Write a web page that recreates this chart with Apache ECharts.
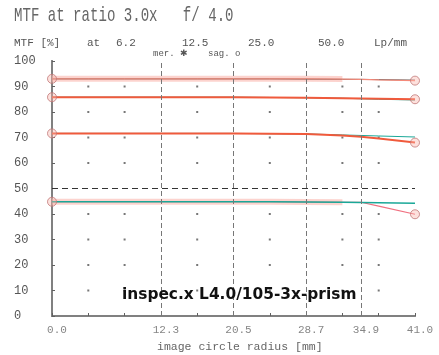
<!DOCTYPE html>
<html><head><meta charset="utf-8">
<script src="https://cdn.jsdelivr.net/npm/echarts@6/dist/echarts.min.js"></script>
<style>html,body{margin:0;padding:0;background:#fff}#c{width:439px;height:355px}</style>
</head><body><div id="c"></div>
<script>
// image circle radius (mm)
const radius = [0, 4.1, 8.2, 12.3, 16.4, 20.5, 24.6, 28.7, 32.8, 34.9, 36.9, 41.0];
// MTF (%) meridional / sagittal at 6.2, 12.5, 25.0, 50.0 lp/mm
const mer62  = [93.0, 93.0, 93.0, 93.0, 93.0, 93.0, 93.0, 93.0, 92.9, 92.8, 92.6, 92.3];
const sag62  = [93.0, 93.0, 93.0, 93.0, 93.0, 93.0, 93.0, 92.9, 92.8, 92.8, 92.7, 92.5];
const mer125 = [85.8, 85.8, 85.8, 85.8, 85.8, 85.8, 85.7, 85.6, 85.4, 85.3, 85.2, 85.0];
const sag125 = [85.8, 85.8, 85.8, 85.8, 85.8, 85.8, 85.7, 85.6, 85.4, 85.2, 85.0, 84.7];
const mer25  = [71.6, 71.6, 71.6, 71.6, 71.6, 71.6, 71.5, 71.4, 70.8, 70.3, 69.6, 68.0];
const sag25  = [71.6, 71.6, 71.6, 71.6, 71.6, 71.6, 71.5, 71.4, 71.0, 70.8, 70.6, 70.2];
const mer50  = [44.8, 44.8, 44.8, 44.8, 44.8, 44.8, 44.8, 44.7, 44.6, 44.6, 43.1, 39.9];
const sag50  = [44.8, 44.8, 44.8, 44.8, 44.8, 44.8, 44.8, 44.7, 44.6, 44.5, 44.4, 44.2];
// tick labels
const xTickLabels = [0.0, 12.3, 20.5, 28.7, 34.9, 41.0];
const dashedX = [12.3, 20.5, 28.7, 34.9];
const dotX = [4.1, 8.2, 16.4, 24.6, 32.8, 36.9];
const dotY = [10, 20, 30, 40, 60, 70, 80, 90];
const freqLabels = ['6.2', '12.5', '25.0', '50.0'];

const pairs = a => radius.map((x, i) => [x, a[i]]);
const dots = [];
dotX.forEach(x => dotY.forEach(y => dots.push([x, y])));
const endMarks = [];
[mer62, mer125, mer25, mer50].forEach(a => { endMarks.push([radius[0], a[0]]); endMarks.push([radius[radius.length - 1], a[a.length - 1]]); });

const mono = 'Liberation Mono';
const TEAL = '#1aa898', RED = '#f05a3c';

function line(name, data, color, width, z) {
  return { name, type: 'line', data: pairs(data), symbol: 'none', lineStyle: { color, width }, z, silent: true };
}
function band(a) {
  const d = pairs(a).filter(p => p[0] <= 32.8);
  return { type: 'line', data: d, symbol: 'none', lineStyle: { color: 'rgba(250,175,165,0.55)', width: 6 }, z: 2, silent: true };
}

const chart = echarts.init(document.getElementById('c'));
chart.setOption({
  animation: false,
  grid: { left: 52, right: 24, top: 61, bottom: 39 },
  xAxis: [
    { type: 'value', min: 0, max: 41, interval: 4.1, position: 'bottom',
      axisLine: { lineStyle: { color: '#808080', width: 2 } },
      axisTick: { show: true, inside: true, length: 3, lineStyle: { color: '#606060' } },
      axisLabel: { show: false }, splitLine: { show: false } },
    { type: 'value', min: 0, max: 41, interval: 4.1, position: 'top',
      axisLine: { show: true, lineStyle: { color: '#808080', width: 2 } },
      axisTick: { show: true, inside: false, length: 3, lineStyle: { color: '#606060' } },
      axisLabel: { show: false }, splitLine: { show: false } }
  ],
  yAxis: [
    { type: 'value', min: 0, max: 100, interval: 10, position: 'left',
      axisLine: { show: true, lineStyle: { color: '#808080', width: 2 } },
      axisTick: { show: true, inside: true, length: 3, lineStyle: { color: '#606060' } },
      axisLabel: { fontFamily: mono, fontSize: 12, color: '#555', align: 'left', margin: 38 },
      splitLine: { show: false } },
    { type: 'value', min: 0, max: 100, interval: 10, position: 'right',
      axisLine: { show: true, lineStyle: { color: '#808080', width: 2 } },
      axisTick: { show: false }, axisLabel: { show: false }, splitLine: { show: false } }
  ],
  series: [
    { type: 'scatter', data: dots, symbol: 'rect', symbolSize: 2, itemStyle: { color: '#555' }, z: 1, silent: true },
    { type: 'scatter', data: xTickLabels.map(x => [x, 0]), symbolSize: 0, clip: false, silent: true,
      label: { show: true, position: 'bottom', distance: 9, offset: [5, 0], fontFamily: mono, fontSize: 11, color: '#666',
        formatter: p => p.value[0].toFixed(1) } },
    { type: 'line', data: [], silent: true,
      markLine: { symbol: 'none', silent: true, label: { show: false },
        data: dashedX.map(x => ({ xAxis: x, lineStyle: { color: '#777', type: [5, 3], width: 1 } }))
          .concat([{ yAxis: 50, lineStyle: { color: '#333', type: [6, 4], width: 1.2 } }]) } },
    band(mer62), band(mer50),
    line('sag6.2', sag62, '#4a5858', 1, 3),
    line('mer6.2', mer62, '#f58a7a', 1.2, 4),
    line('sag12.5', sag125, TEAL, 1, 3),
    line('mer12.5', mer125, RED, 2, 4),
    line('sag25', sag25, TEAL, 1, 3),
    line('mer25', mer25, RED, 2, 4),
    line('mer50', mer50, '#f07080', 1.2, 3),
    line('sag50', sag50, TEAL, 1.5, 4),
    { type: 'scatter', data: endMarks, symbol: 'circle', symbolSize: 9, clip: false, silent: true, z: 6,
      itemStyle: { color: 'rgba(250,180,170,0.5)', borderColor: '#c07878', borderWidth: 1 } }
  ],
  graphic: [
    { type: 'text', left: 14, top: 5, scaleX: 0.67, style: { text: 'MTF at ratio 3.0x   f/ 4.0', fontFamily: mono, fontSize: 21, fill: '#666' } },
    { type: 'text', left: 14, top: 38, style: { text: 'MTF [%]', fontFamily: mono, fontSize: 11, fill: '#555' } },
    { type: 'text', left: 87, top: 38, style: { text: 'at', fontFamily: mono, fontSize: 11, fill: '#555' } },
    { type: 'text', left: 116, top: 38, style: { text: freqLabels[0], fontFamily: mono, fontSize: 11, fill: '#555' } },
    { type: 'text', left: 182, top: 38, style: { text: freqLabels[1], fontFamily: mono, fontSize: 11, fill: '#555' } },
    { type: 'text', left: 248, top: 38, style: { text: freqLabels[2], fontFamily: mono, fontSize: 11, fill: '#555' } },
    { type: 'text', left: 318, top: 38, style: { text: freqLabels[3], fontFamily: mono, fontSize: 11, fill: '#555' } },
    { type: 'text', left: 374, top: 38, style: { text: 'Lp/mm', fontFamily: mono, fontSize: 11, fill: '#555' } },
    { type: 'text', left: 153, top: 49, style: { text: 'mer. \u2731', fontFamily: mono, fontSize: 9, fill: '#555' } },
    { type: 'text', left: 208, top: 49, style: { text: 'sag. o', fontFamily: mono, fontSize: 9, fill: '#555' } },
    { type: 'text', left: 157, top: 341, style: { text: 'image circle radius [mm]', fontFamily: mono, fontSize: 11.5, fill: '#666' } },
    { type: 'text', left: 122, top: 287, z: 100, style: { text: 'inspec.x L4.0/105-3x-prism', fontFamily: 'DejaVu Sans', fontWeight: 'bold', fontSize: 15.4, fill: '#111' } }
  ]
});
</script>
</body></html>
